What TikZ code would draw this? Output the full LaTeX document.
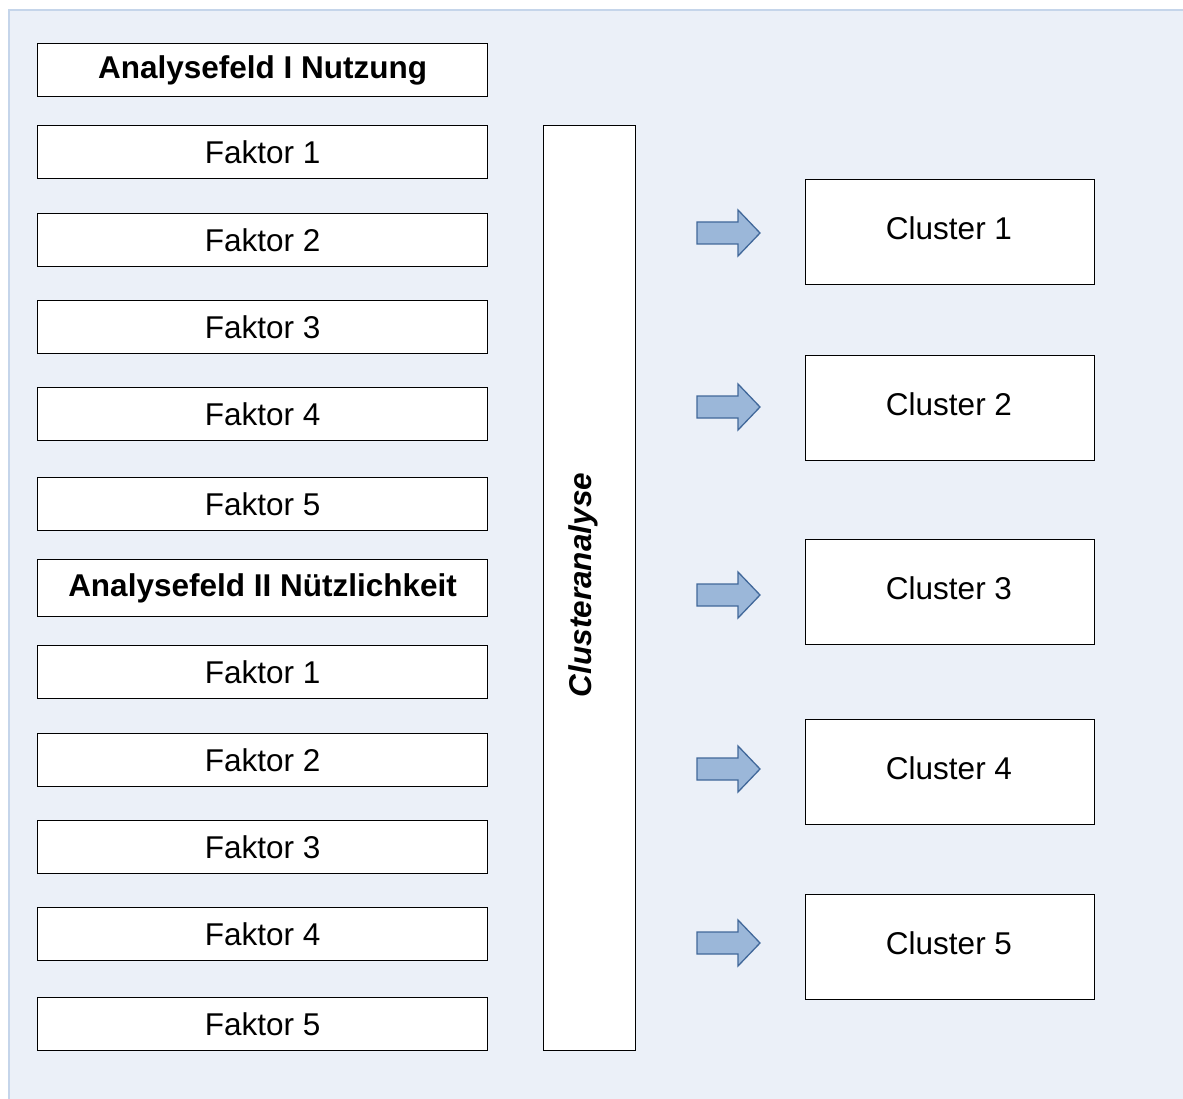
\documentclass[tikz,border=0pt]{standalone}
\usepackage{fontspec}
\setmainfont{Liberation Sans}
\definecolor{bgfill}{HTML}{EBF0F8}
\definecolor{bgline}{HTML}{C5D5EA}
\definecolor{arrfill}{HTML}{9BB7D9}
\definecolor{arrline}{HTML}{41689A}
\tikzset{
  txt/.style={font=\fontsize{31.5}{34}\selectfont},
  box/.style={txt, draw=black, line width=1.1pt, fill=white, minimum width=450pt, minimum height=53pt, inner sep=0pt, anchor=north west},
  head/.style={box, font=\fontsize{31.5}{34}\selectfont\bfseries},
  cbox/.style={draw=black, line width=1.1pt, fill=white, minimum width=289pt, minimum height=105pt, inner sep=0pt, anchor=north west},
  barr/.style={draw=arrline, fill=arrfill, line width=1.3pt, line join=miter}
}
\newcommand{\blockarrow}[1]{%
  \draw[barr] (697,#1-11) -- (738,#1-11) -- (738,#1-23) -- (760,#1) -- (738,#1+23) -- (738,#1+11) -- (697,#1+11) -- cycle;}
\begin{document}
\begin{tikzpicture}[x=1pt,y=-1pt]
\useasboundingbox (0,0) rectangle (1183,1099);
\begin{scope}
\clip (0,0) rectangle (1183,1099);
\draw[bgline, fill=bgfill, line width=2pt] (9,10) rectangle (1200,1120);
\end{scope}
\node[head] (h1) at (37,43) {Analysefeld I Nutzung};
\node[box] (a1) at (37,125) {Faktor 1};
\node[box] (a2) at (37,213) {Faktor 2};
\node[box] (a3) at (37,300) {Faktor 3};
\node[box] (a4) at (37,387) {Faktor 4};
\node[box] (a5) at (37,477) {Faktor 5};
\node[head, minimum height=57pt] (h2) at (37,559) {Analysefeld II Nützlichkeit};
\node[box] (b1) at (37,645) {Faktor 1};
\node[box] (b2) at (37,733) {Faktor 2};
\node[box] (b3) at (37,820) {Faktor 3};
\node[box] (b4) at (37,907) {Faktor 4};
\node[box] (b5) at (37,997) {Faktor 5};
\node[draw=black, line width=1.1pt, fill=white, minimum width=92pt, minimum height=925pt, inner sep=0pt, anchor=north west] (ca) at (543,125) {};
\node[rotate=90, font=\fontsize{31.5}{34}\selectfont\bfseries\itshape] (cat) at (583,585) {Clusteranalyse};
\node[cbox] (c1) at (805,179) {};
\node[cbox] (c2) at (805,355) {};
\node[cbox] (c3) at (805,539) {};
\node[cbox] (c4) at (805,719) {};
\node[cbox] (c5) at (805,894) {};
\node[txt] (t1) at (949,228) {Cluster 1};
\node[txt] (t2) at (949,404) {Cluster 2};
\node[txt] (t3) at (949,588) {Cluster 3};
\node[txt] (t4) at (949,768) {Cluster 4};
\node[txt] (t5) at (949,943) {Cluster 5};
\blockarrow{233}
\blockarrow{407}
\blockarrow{595}
\blockarrow{769}
\blockarrow{943}
\end{tikzpicture}
\end{document}
